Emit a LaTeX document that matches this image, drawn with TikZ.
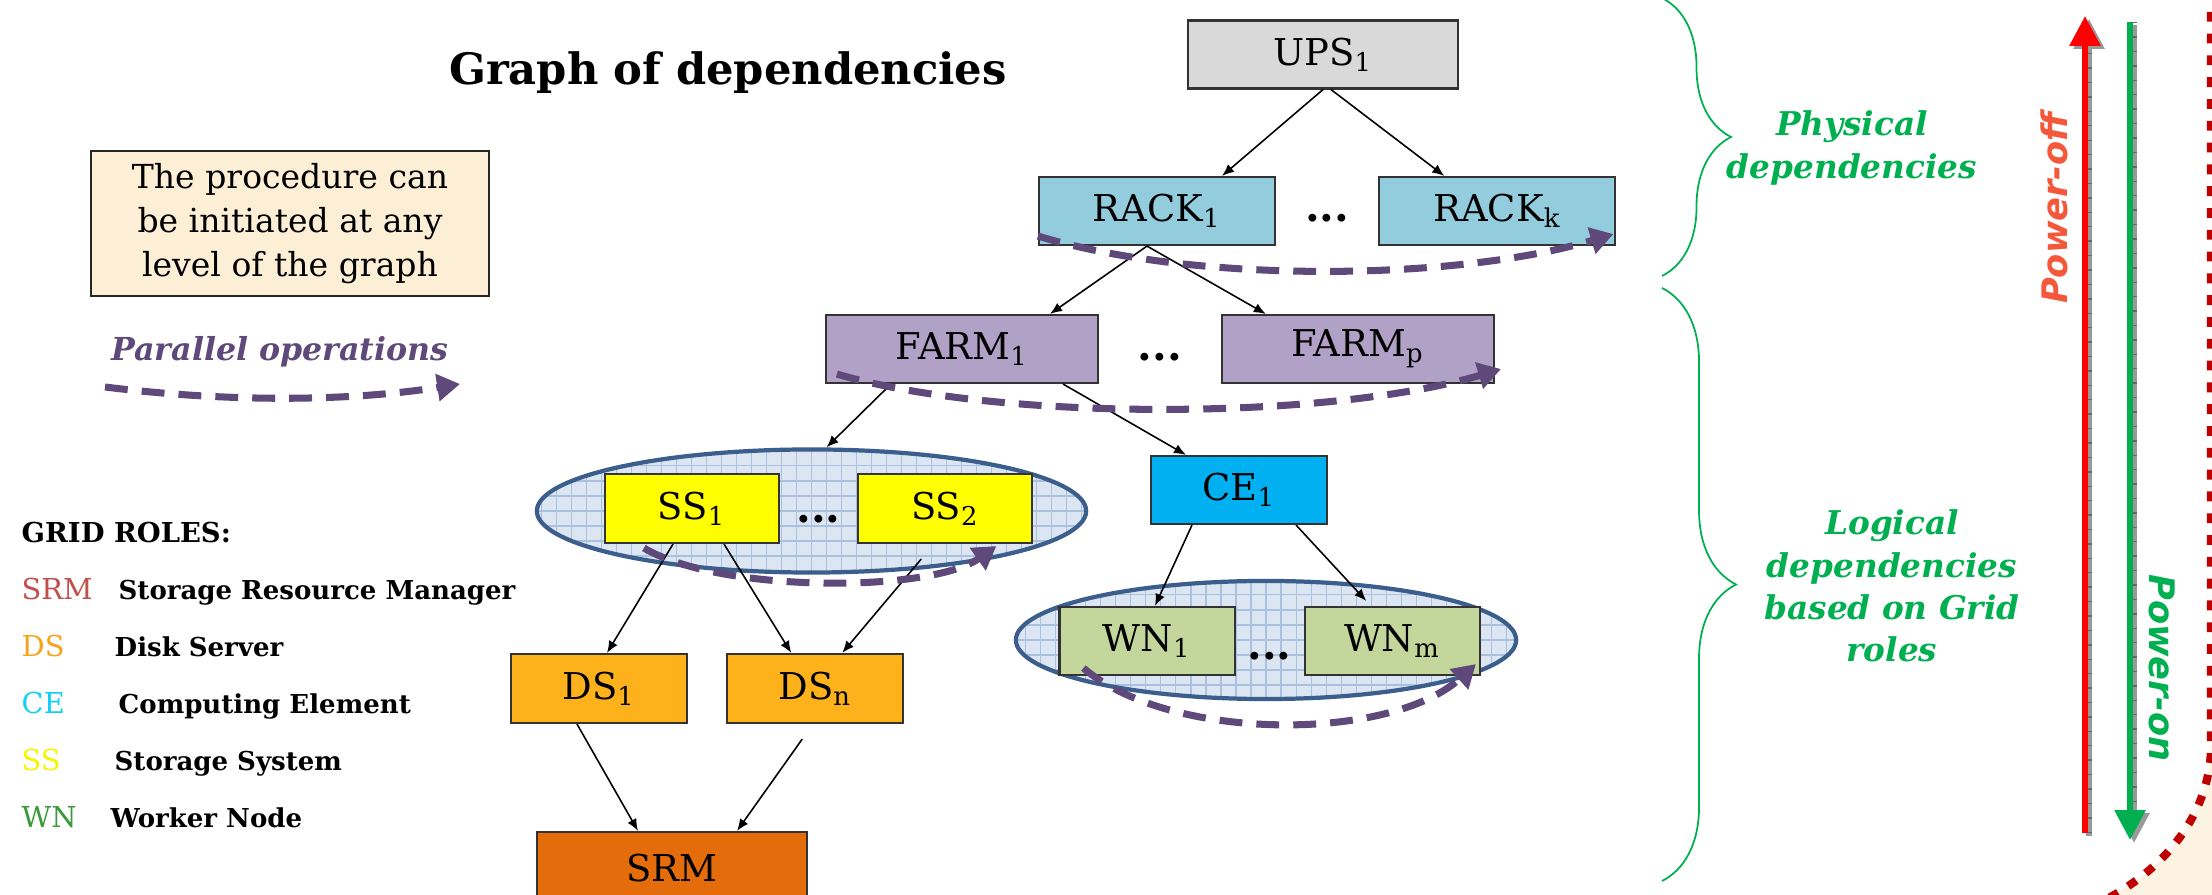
\documentclass[tikz,border=0pt]{standalone}
\usepackage{fontspec}
\setmainfont{DejaVu Serif}
\newfontfamily\powerfont{DejaVu Sans}
\usepackage{tikz}
\usetikzlibrary{arrows.meta,positioning,calc,shapes.geometric,decorations.pathreplacing}
\definecolor{UpsGray}{HTML}{D9D9D9}
\definecolor{RackBlue}{HTML}{93CDDD}
\definecolor{FarmLilac}{HTML}{B2A1C7}
\definecolor{CeCyan}{HTML}{00B0F0}
\definecolor{SsYellow}{HTML}{FFFF00}
\definecolor{DsOrange}{HTML}{FDB21C}
\definecolor{SrmOrange}{HTML}{E46C0A}
\definecolor{WnGreen}{HTML}{C3D69B}
\definecolor{NoteCream}{HTML}{FCEFD6}
\definecolor{RingBlue}{HTML}{3B5E8C}
\definecolor{RingFill}{HTML}{DCE6F2}
\definecolor{RingGrid}{HTML}{A9C1DE}
\definecolor{FlowPurple}{HTML}{5F497A}
\definecolor{DepGreen}{HTML}{00B050}
\definecolor{OffRed}{HTML}{FF0000}
\definecolor{OffText}{HTML}{F4573A}
\definecolor{EdgeRed}{HTML}{C00000}
\definecolor{EdgeCream}{HTML}{FDF3E2}
\definecolor{KeySrm}{HTML}{C0504D}
\definecolor{KeyDs}{HTML}{F7A21B}
\definecolor{KeyCe}{HTML}{10D0F8}
\definecolor{KeySs}{HTML}{F5F500}
\definecolor{KeyWn}{HTML}{3A9A3A}
\newcommand\unitfont{\fontsize{10.5}{12}\selectfont}
\tikzset{
  unitbox/.style={draw=black!80, line width=0.6pt, minimum height=6.8mm,
    inner sep=2pt, font=\unitfont},
  upsunit/.style={unitbox, fill=UpsGray, minimum width=27mm},
  rackunit/.style={unitbox, fill=RackBlue, minimum width=23.6mm},
  farmunit/.style={unitbox, fill=FarmLilac, minimum width=27.2mm},
  ceunit/.style={unitbox, fill=CeCyan, minimum width=17.6mm},
  ssunit/.style={unitbox, fill=SsYellow, minimum width=17.4mm, minimum height=6.9mm},
  dsunit/.style={unitbox, fill=DsOrange, minimum width=17.6mm, minimum height=6.9mm},
  srmunit/.style={unitbox, fill=SrmOrange, minimum width=27mm, minimum height=7.2mm},
  wnunit/.style={unitbox, fill=WnGreen, minimum width=17.5mm},
  rolegroup/.style={ellipse, draw=RingBlue, line width=1.2pt, fill=RingFill, inner sep=0pt,
    path picture={\draw[RingGrid, line width=0.3pt, step=1.5mm]
      (path picture bounding box.south west) grid (path picture bounding box.north east);}},
  elide/.style={inner sep=0pt, font=\bfseries\fontsize{12}{12}\selectfont},
  note/.style={draw=black!85, line width=0.6pt, fill=NoteCream, align=center,
    minimum width=39.8mm, minimum height=14.5mm, font=\fontsize{9.4}{12.6}\selectfont},
  titletext/.style={font=\bfseries\fontsize{12.3}{14}\selectfont},
  flowtext/.style={text=FlowPurple, font=\bfseries\itshape\fontsize{9}{10}\selectfont},
  rolehead/.style={anchor=base west, inner sep=0pt, font=\bfseries\fontsize{7.8}{10}\selectfont},
  roleabbr/.style={anchor=base west, inner sep=0pt, font=\fontsize{8.2}{10}\selectfont},
  roletext/.style={anchor=base west, inner sep=0pt, font=\bfseries\fontsize{7.4}{10}\selectfont},
  deplabel/.style={text=DepGreen, align=center, font=\bfseries\itshape\fontsize{9.3}{12}\selectfont},
  depbrace/.style={decorate, decoration={brace, amplitude=#1}, draw=DepGreen, line width=0.5pt},
  powerlabel/.style={font=\powerfont\bfseries\itshape\fontsize{10}{12}\selectfont},
  wire/.style={-{Latex[length=3.4pt,width=2.8pt]}, line width=0.45pt},
  flowwire/.style={-{Triangle[length=6.5pt,width=7.5pt]}, draw=FlowPurple, line width=2pt,
    dash pattern=on 6.5pt off 4pt},
  powerwire/.style={line width=1.7pt, -{Triangle[length=8.5pt,width=8.5pt]}},
  shadowwire/.style={powerwire, draw=black!40, fill=black!40},
  tickmarks/.style={draw=black!60, line width=1.1pt, dash pattern=on 0.4pt off 3.7pt},
  pageedge/.style={draw=EdgeRed, line width=2.3pt, dash pattern=on 2.8pt off 3.4pt}
}

\begin{document}
\begin{tikzpicture}[x=0.01cm, y=-0.01cm]
  \useasboundingbox (0,0) rectangle (2212,895);
  \clip (0,0) rectangle (2212,895);
  \fill[white] (0,0) rectangle (2212,895);

  % corner of the next page
  \fill[EdgeCream] (2211,745) .. controls (2211,800) and (2180,860) .. (2105,900)
    -- (2240,900) -- (2240,745) -- cycle;
  \draw[pageedge] (2211,-10) -- (2211,745) .. controls (2211,800) and (2180,860) .. (2105,900);

  % heading, note and legend
  \node[titletext, anchor=base] (title) at (728,85) {Graph of dependencies};
  \node[note] (procnote) at (290,223.5) {The procedure can\\be initiated at any\\level of the graph};
  \node[flowtext] (flowlabel) at (280,352) {Parallel operations};
  \coordinate (flowA) at (105,387);
  \coordinate (flowB) at (460,384);
  \draw[flowwire] (flowA) .. controls (225,402) and (345,402) .. (flowB);

  \node[rolehead] (roles) at (21,543) {GRID ROLES:};
  \node[roleabbr, text=KeySrm] (srmkey) at (21,600) {SRM};
  \node[roletext] (srmtext) at (118,600) {Storage Resource Manager};
  \node[roleabbr, text=KeyDs] (dskey) at (21,657) {DS};
  \node[roletext] (dstext) at (114,657) {Disk Server};
  \node[roleabbr, text=KeyCe] (cekey) at (21,714) {CE};
  \node[roletext] (cetext) at (118,714) {Computing Element};
  \node[roleabbr, text=KeySs] (sskey) at (21,771) {SS};
  \node[roletext] (sstext) at (114,771) {Storage System};
  \node[roleabbr, text=KeyWn] (wnkey) at (21,828) {WN};
  \node[roletext] (wntext) at (110,828) {Worker Node};

  % role groups
  \node[rolegroup, minimum width=54.9mm, minimum height=12.3mm] (ssgroup) at (811.5,511) {};
  \node[rolegroup, minimum width=50mm, minimum height=11.8mm] (wngroup) at (1266,640) {};

  % dependency graph
  \node[upsunit] (ups) at (1323,54.5) {UPS\textsubscript{1}};
  \node[rackunit] (rack1) at (1157,211) {RACK\textsubscript{1}};
  \node[rackunit, right=10.2mm of rack1] (rackk) {RACK\textsubscript{k}};
  \node[elide] (rackdots) at ($(rack1.east)!0.5!(rackk.west)+(0,7)$) {...};
  \node[farmunit] (farm1) at (962,349) {FARM\textsubscript{1}};
  \node[farmunit, right=12.15mm of farm1] (farmp) {FARM\textsubscript{p}};
  \node[elide] (farmdots) at ($(farm1.east)!0.5!(farmp.west)+(0,8)$) {...};
  \node[ceunit] (ce1) at (1239,490) {CE\textsubscript{1}};
  \node[ssunit] (ss1) at (692,508.5) {SS\textsubscript{1}};
  \node[ssunit, right=7.7mm of ss1] (ss2) {SS\textsubscript{2}};
  \node[elide] (ssdots) at ($(ss1.east)!0.5!(ss2.west)+(0,11)$) {...};
  \node[wnunit] (wn1) at (1147,641) {WN\textsubscript{1}};
  \node[wnunit, right=6.8mm of wn1] (wnm) {WN\textsubscript{m}};
  \node[elide] (wndots) at ($(wn1.east)!0.5!(wnm.west)+(0,15)$) {...};
  \node[dsunit] (ds1) at (599,688.5) {DS\textsubscript{1}};
  \node[dsunit, right=3.8mm of ds1] (dsn) {DS\textsubscript{n}};
  \node[srmunit] (srm) at (672,868) {SRM};

  \draw[wire] (ups.south) -- ([xshift=6.5mm]rack1.north);
  \draw[wire] ([xshift=0.8mm]ups.south) -- ([xshift=-5.3mm]rackk.north);
  \draw[wire] ([xshift=-1mm]rack1.south) -- ([xshift=8.8mm]farm1.north);
  \draw[wire] ([xshift=-1mm]rack1.south) -- ([xshift=-9.2mm]farmp.north);
  \draw[wire] ([xshift=-7.1mm]farm1.south) -- ([xshift=1.5mm]ssgroup.north);
  \draw[wire] ([xshift=-3.6mm]farm1.south east) -- ([xshift=-5.3mm]ce1.north);
  \draw[wire] ([xshift=-4.7mm]ce1.south) -- ([xshift=0.8mm]wn1.north);
  \draw[wire] ([xshift=5.7mm]ce1.south) -- ([xshift=-2.6mm,yshift=0.5mm]wnm.north);
  \draw[wire] ([xshift=-1.9mm]ss1.south) -- ([xshift=0.8mm]ds1.north);
  \draw[wire] ([xshift=3.2mm]ss1.south) -- ([xshift=-2.4mm]dsn.north);
  \draw[wire] ([xshift=-2.4mm,yshift=-1.5mm]ss2.south) -- ([xshift=2.7mm]dsn.north);
  \draw[wire] ([xshift=-2.2mm]ds1.south) -- ([xshift=-3.4mm]srm.north);
  \draw[wire] ([xshift=-1.3mm,yshift=-1.5mm]dsn.south) -- ([xshift=6.5mm]srm.north);

  % parallel operations on each level
  \draw[flowwire] ([shift={(0,-10)}]rack1.south west) .. controls (1200,285) and (1460,280)
    .. ([shift={(-3,-12)}]rackk.south east);
  \draw[flowwire] ([shift={(12,-10)}]farm1.south west) .. controls (1000,422) and (1330,420)
    .. ([shift={(6,-15)}]farmp.south east);
  \draw[flowwire] ([shift={(40,4)}]ss1.south west) .. controls (720,593) and (930,593)
    .. ([shift={(-37,2)}]ss2.south east);
  \draw[flowwire] ([shift={(25,-8)}]wn1.south west) .. controls (1170,742) and (1390,742)
    .. ([shift={(-5,-12)}]wnm.south east);

  % physical and logical parts
  \coordinate (physTop) at (1662,-2);
  \coordinate (physBot) at (1662,276);
  \coordinate (logTop) at (1662,288);
  \coordinate (logBot) at (1662,881);
  \draw[depbrace=6.9mm] (physTop) -- (physBot);
  \draw[depbrace=7.4mm] (logTop) -- (logBot);
  \node[deplabel] (physlabel) at (1852,148) {Physical\\dependencies};
  \node[deplabel] (loglabel) at (1892,586) {Logical\\dependencies\\based on Grid\\roles};

  % power-off goes up, power-on goes down
  \coordinate (offBot) at (2085,833);
  \coordinate (offTop) at (2085,16);
  \coordinate (onTop) at (2130,22);
  \coordinate (onBot) at (2130,840);
  \draw[shadowwire] ([xshift=0.4mm,yshift=-0.3mm]offBot) -- ([xshift=0.4mm,yshift=-0.3mm]offTop);
  \draw[tickmarks] ([xshift=0.5mm]offBot) -- ([xshift=0.5mm,yshift=-3mm]offTop);
  \draw[powerwire, draw=OffRed, fill=OffRed] (offBot) -- (offTop);
  \draw[shadowwire] ([xshift=0.4mm,yshift=-0.3mm]onTop) -- ([xshift=0.4mm,yshift=-0.3mm]onBot);
  \draw[tickmarks] ([xshift=0.5mm]onTop) -- ([xshift=0.5mm,yshift=3mm]onBot);
  \draw[powerwire, draw=DepGreen, fill=DepGreen] (onTop) -- (onBot);
  \node[powerlabel, text=OffText, rotate=90] (offlabel) at (2054,208) {Power-off};
  \node[powerlabel, text=DepGreen, rotate=-90] (onlabel) at (2162,668) {Power-on};
\end{tikzpicture}
\end{document}
